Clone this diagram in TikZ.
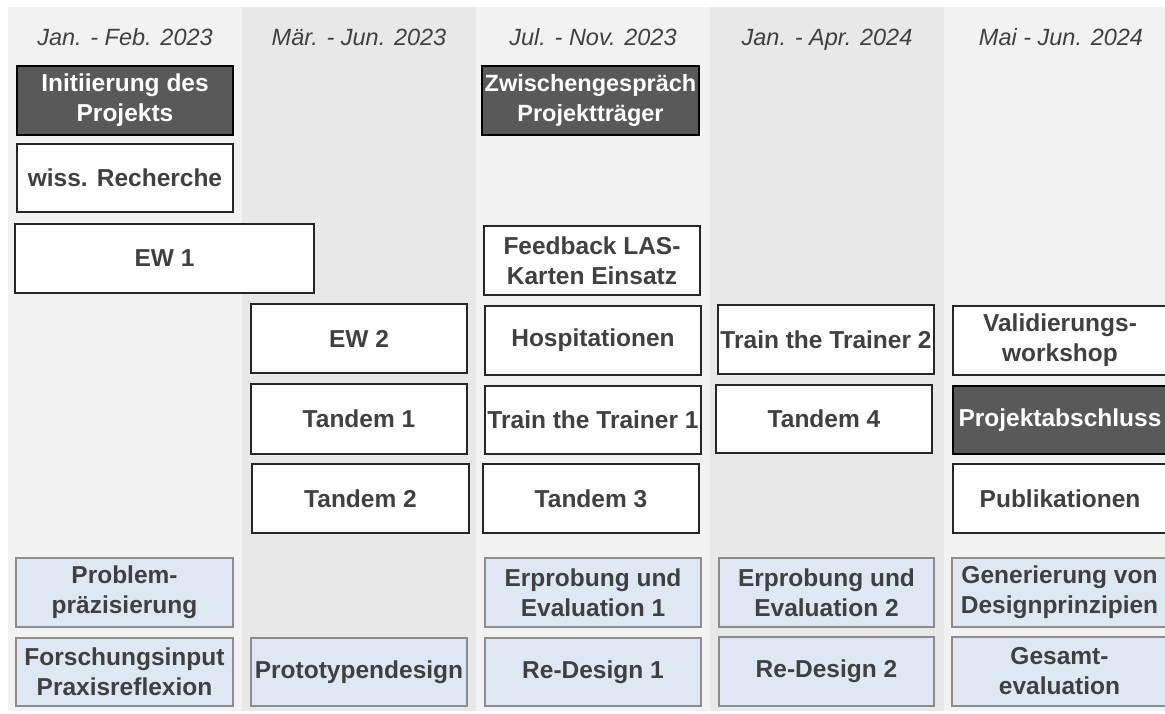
\documentclass[tikz,border=0pt]{standalone}
\usepackage{fontspec}
\setmainfont{Liberation Sans}
\definecolor{colA}{HTML}{F2F2F2}
\definecolor{colB}{HTML}{E8E8E8}
\definecolor{txt}{HTML}{404040}
\definecolor{darkf}{HTML}{595959}
\definecolor{bluef}{HTML}{DEE8F5}
\definecolor{blueb}{HTML}{8C8C8C}
\tikzset{
 basebox/.style={rectangle, inner sep=0pt, align=center, font=\fontsize{24.5}{30}\selectfont\bfseries},
 wbox/.style={basebox, draw=black!85, line width=1.5pt, fill=white, text=txt},
 dbox/.style={basebox, draw=black, line width=1.5pt, fill=darkf, text=white},
 bbox/.style={basebox, draw=blueb, line width=1.2pt, fill=bluef, text=txt},
 hdr/.style={font=\fontsize{23.5}{28}\selectfont\itshape, text=txt, inner sep=0pt, anchor=base}
}
\newcommand\bx[7]{%
 \pgfmathsetmacro\bxw{#5-#3}\pgfmathsetmacro\bxh{#6-#4}%
 \pgfmathsetmacro\bxcx{(#3+#5)/2}\pgfmathsetmacro\bxcy{(#4+#6)/2}%
 \node[#1, minimum width=\bxw pt, minimum height=\bxh pt] (#2) at (\bxcx,\bxcy) {#7};}
\begin{document}
\begin{tikzpicture}[x=1pt,y=-1pt]
\path[use as bounding box, clip] (0,0) rectangle (1165,713);
\fill[white] (0,0) rectangle (1165,713);
% columns
\fill[colA] (8,7) rectangle (242,711);
\fill[colB] (242,7) rectangle (476,711);
\fill[colA] (476,7) rectangle (710,711);
\fill[colB] (710,7) rectangle (944,711);
\fill[colA] (944,7) rectangle (1180,711);
% headers
\node[hdr] (h1) at (125,45) {Jan. - Feb. 2023};
\node[hdr] (h2) at (359,45) {Mär. - Jun. 2023};
\node[hdr] (h3) at (593,45) {Jul. - Nov. 2023};
\node[hdr] (h4) at (827,45) {Jan. - Apr. 2024};
\node[hdr] (h5) at (1061,45) {Mai - Jun. 2024};
% boxes
\bx{dbox}{init}{17}{66}{233}{135}{Initiierung des\\Projekts}
\bx{wbox}{wiss}{17}{144}{233}{212}{wiss. Recherche}
\bx{wbox}{ewone}{15}{224}{314}{293}{EW 1}
\bx{dbox, font=\fontsize{23.5}{30}\selectfont\bfseries}{zwischen}{482}{66}{699}{135}{Zwischengespräch\\Projektträger}
\bx{wbox}{feedback}{484}{226}{700}{295}{Feedback LAS-\\Karten Einsatz}
\bx{wbox}{ewtwo}{251}{304}{467}{373}{EW 2}
\bx{wbox}{tandemone}{251}{384}{467}{454}{Tandem 1}
\bx{wbox}{tandemtwo}{252}{464}{469}{533}{Tandem 2}
\bx{wbox}{hosp}{485}{306}{701}{375}{Hospitationen}
\bx{wbox}{tttone}{485}{386}{701}{454}{Train the Trainer 1}
\bx{wbox}{tandemthree}{483}{464}{699}{533}{Tandem 3}
\bx{wbox}{ttttwo}{718}{305}{934}{374}{Train the Trainer 2}
\bx{wbox}{tandemfour}{716}{385}{932}{453}{Tandem 4}
\bx{wbox}{valid}{953}{306}{1167}{375}{Validierungs-\\workshop}
\bx{dbox}{abschluss}{953}{386}{1167}{454}{Projektabschluss}
\bx{wbox}{publ}{953}{464}{1167}{533}{Publikationen}
% blue boxes
\bx{bbox}{problem}{16}{558}{233}{627}{Problem-\\präzisierung}
\bx{bbox}{forschung}{16}{638}{233}{706}{Forschungsinput\\Praxisreflexion}
\bx{bbox}{proto}{251}{638}{467}{706}{Prototypendesign}
\bx{bbox}{erpone}{485}{558}{701}{627}{Erprobung und\\Evaluation 1}
\bx{bbox}{redesignone}{485}{638}{701}{706}{Re-Design 1}
\bx{bbox}{erptwo}{719}{558}{934}{627}{Erprobung und\\Evaluation 2}
\bx{bbox}{redesigntwo}{719}{637}{934}{706}{Re-Design 2}
\bx{bbox}{gener}{952}{558}{1167}{627}{Generierung von\\Designprinzipien}
\bx{bbox}{gesamt}{952}{637}{1167}{706}{Gesamt-\\evaluation}
\end{tikzpicture}
\end{document}
